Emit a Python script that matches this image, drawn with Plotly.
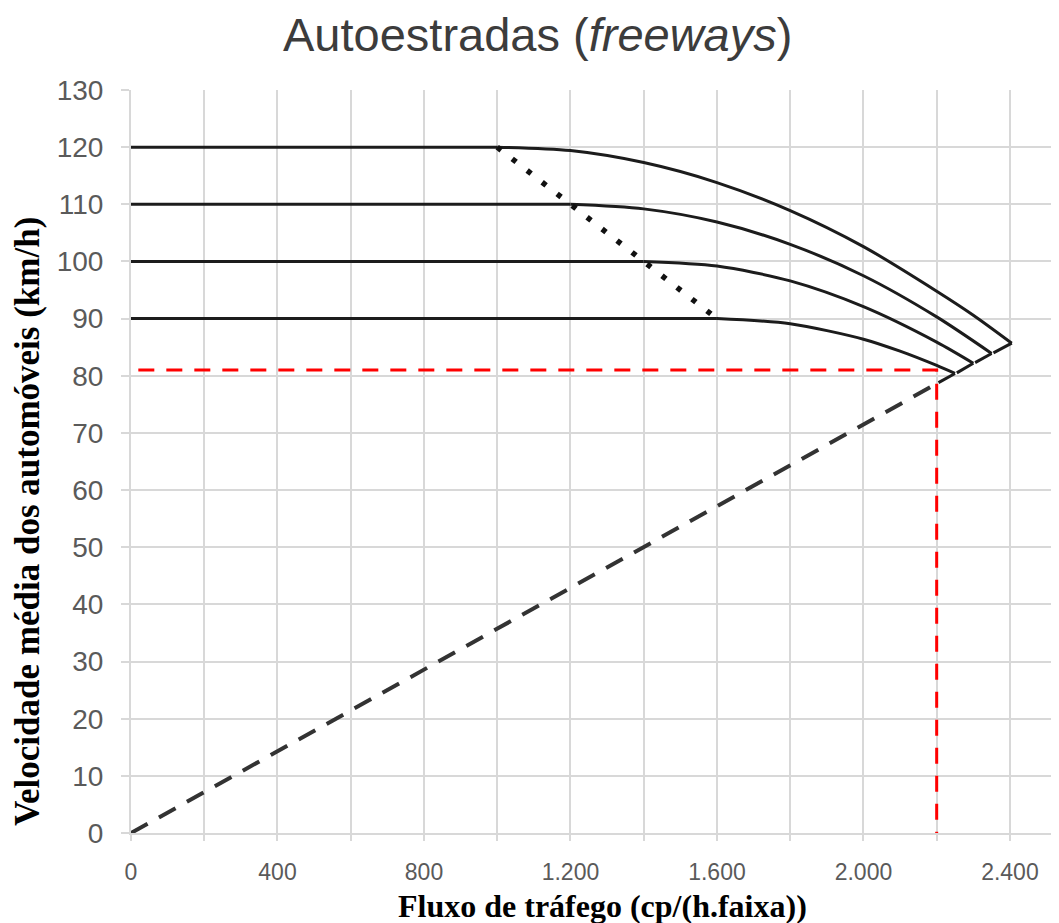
import plotly.graph_objects as go

# ---- data ----
flow_120 = [0, 1000, 1200, 1400, 1600, 1800, 2000, 2200, 2300, 2405]
speed_120 = [120, 120, 119.4, 117.3, 113.8, 108.9, 102.6, 94.8, 90.6, 85.7]
hook_120_x = [2405, 2355]
hook_120_y = [85.7, 84.0]

flow_110 = [0, 1200, 1400, 1600, 1800, 2000, 2200, 2350]
speed_110 = [110, 110, 109.2, 106.9, 103.0, 97.5, 90.3, 83.9]
hook_110_x = [2350, 2305]
hook_110_y = [83.9, 82.3]

flow_100 = [0, 1400, 1600, 1800, 2000, 2200, 2300]
speed_100 = [100, 100, 99.2, 96.6, 92.1, 85.9, 82.2]
hook_100_x = [2300, 2255]
hook_100_y = [82.2, 80.5]

flow_90 = [0, 1600, 1800, 2000, 2100, 2200, 2250]
speed_90 = [90, 90, 89.1, 86.4, 84.3, 81.8, 80.4]
hook_90_x = [2250, 2205]
hook_90_y = [80.4, 78.8]

break_flow = [1000, 1200, 1400, 1600]
break_speed = [120, 110, 100, 90]

density_flow = [0, 2205]
density_speed = [0, 78.8]

red_flow = [20, 2200, 2200]
red_speed = [81, 81, 0]

x_tickvals = [0, 200, 400, 600, 800, 1000, 1200, 1400, 1600, 1800, 2000, 2200, 2400]
x_ticktext = ["0", "", "400", "", "800", "", "1.200", "", "1.600", "", "2.000", "", "2.400"]
y_tickvals = [0, 10, 20, 30, 40, 50, 60, 70, 80, 90, 100, 110, 120, 130]
y_ticktext = [str(v) for v in y_tickvals]

title_text = "Autoestradas (<i>freeways</i>)"
x_title = "Fluxo de tráfego (cp/(h.faixa))"
y_title = "Velocidade média dos automóveis (km/h)"

# ---- figure ----
# page body has an 8px margin; compensate so the chart sits where the reference has it
OFF = 8
W, H = 1059 - OFF, 923 - OFF
ML, MR, MT = 131 - OFF, 0, 90 - OFF
PLOT_H = 743
MB = H - MT - PLOT_H
CURVE = "#1c1c1c"
GRID = "#d8d8d8"

fig = go.Figure()

for fx, fy, hx, hy in [
    (flow_120, speed_120, hook_120_x, hook_120_y),
    (flow_110, speed_110, hook_110_x, hook_110_y),
    (flow_100, speed_100, hook_100_x, hook_100_y),
    (flow_90, speed_90, hook_90_x, hook_90_y),
]:
    # flat part (free-flow speed up to breakpoint)
    fig.add_trace(go.Scatter(x=fx[:2], y=fy[:2], mode="lines",
                             line=dict(color=CURVE, width=3), hoverinfo="skip"))
    # curved part beyond the breakpoint
    fig.add_trace(go.Scatter(x=fx[1:], y=fy[1:], mode="lines",
                             line=dict(color=CURVE, width=3, shape="spline", smoothing=0.8),
                             hoverinfo="skip"))
    fig.add_trace(go.Scatter(x=hx, y=hy, mode="lines",
                             line=dict(color=CURVE, width=3), hoverinfo="skip"))

fig.add_trace(go.Scatter(x=break_flow, y=break_speed, mode="lines",
                         line=dict(color="#111111", width=5.5, dash="5px,14px"),
                         hoverinfo="skip"))

fig.add_trace(go.Scatter(x=density_flow, y=density_speed, mode="lines",
                         line=dict(color="#333333", width=4, dash="19px,13px"),
                         hoverinfo="skip"))

fig.add_trace(go.Scatter(x=red_flow, y=red_speed, mode="lines",
                         line=dict(color="#ff0000", width=3, dash="16px,12px"),
                         hoverinfo="skip"))

plot_w = W - ML - MR
x_max = 2534


def px_to_paper_x(px):
    return (px - OFF - ML) / plot_w


def px_to_paper_y(py):
    return (MT + PLOT_H - (py - OFF)) / PLOT_H


fig.update_layout(
    width=W, height=H,
    margin=dict(l=ML, r=MR, t=MT, b=MB, pad=0),
    paper_bgcolor="white", plot_bgcolor="white",
    showlegend=False,
    font=dict(family="Liberation Sans, Arial, sans-serif"),
    xaxis=dict(
        range=[0, x_max], tickmode="array", tickvals=x_tickvals, ticktext=x_ticktext,
        showgrid=True, gridcolor=GRID, gridwidth=2,
        showline=True, linecolor=GRID, linewidth=2,
        ticks="outside", ticklen=6, tickcolor=GRID, tickwidth=2,
        zeroline=False, ticklabelstandoff=11,
        tickfont=dict(size=23, color="#5a5a5a", family="Liberation Sans, Arial, sans-serif"),
    ),
    yaxis=dict(
        range=[0, 130], tickmode="array", tickvals=y_tickvals, ticktext=y_ticktext,
        showgrid=True, gridcolor=GRID, gridwidth=2,
        showline=True, linecolor=GRID, linewidth=2,
        ticks="outside", ticklen=8, tickcolor=GRID, tickwidth=2,
        zeroline=False, ticklabelstandoff=12,
        tickfont=dict(size=28, color="#5a5a5a", family="Liberation Sans, Arial, sans-serif"),
    ),
    annotations=[
        dict(text=title_text, xref="paper", yref="paper",
             x=px_to_paper_x(537), y=px_to_paper_y(34), xanchor="center", yanchor="middle",
             showarrow=False, font=dict(size=47, color="#3c3c3c", family="Liberation Sans, Arial, sans-serif")),
        dict(text="<b>" + x_title + "</b>", xref="paper", yref="paper",
             x=px_to_paper_x(602), y=px_to_paper_y(906), xanchor="center", yanchor="middle",
             showarrow=False, font=dict(size=32, color="#000000", family="Liberation Serif, Times New Roman, serif")),
        dict(text="<b>" + y_title + "</b>", xref="paper", yref="paper",
             x=px_to_paper_x(27), y=px_to_paper_y(522), xanchor="center", yanchor="middle",
             textangle=-90,
             showarrow=False, font=dict(size=35, color="#000000", family="Liberation Serif, Times New Roman, serif")),
    ],
)

fig.write_html("out.html")
